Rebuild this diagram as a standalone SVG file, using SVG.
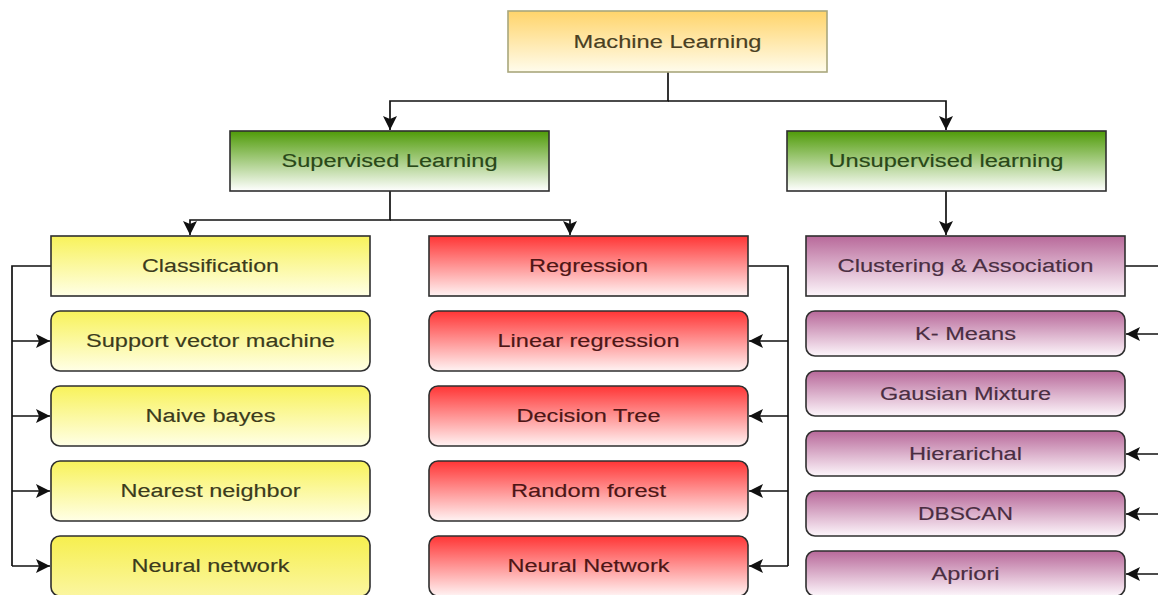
<svg xmlns="http://www.w3.org/2000/svg" width="1158" height="595" viewBox="0 0 1158 595">
  <style>
    .box { stroke: #2f2f2f; stroke-width: 1.6; }
    .root { stroke: #a9a77c; stroke-width: 1.6; }
    .lbl { font-family: "Liberation Sans", Arial, sans-serif; font-size: 18px; text-anchor: middle; stroke-width: 0.15; }
    .t-ml { fill: #4a3f22; stroke: #4a3f22; }
    .t-green { fill: #294818; stroke: #294818; }
    .t-yel { fill: #3b3b1c; stroke: #3b3b1c; }
    .t-red { fill: #4d1616; stroke: #4d1616; }
    .t-pur { fill: #4a2e42; stroke: #4a2e42; }
    .wire { fill: none; stroke: #111; stroke-width: 1.7; }
  </style>
  <defs>
    <linearGradient id="gOrange" x1="0" y1="0" x2="0" y2="1">
      <stop offset="0" stop-color="#ffd46a"/>
      <stop offset="1" stop-color="#fffcec"/>
    </linearGradient>
    <linearGradient id="gGreen" x1="0" y1="0" x2="0" y2="1">
      <stop offset="0" stop-color="#4f9b08"/>
      <stop offset="1" stop-color="#ffffff"/>
    </linearGradient>
    <linearGradient id="gYellow" x1="0" y1="0" x2="0" y2="1">
      <stop offset="0" stop-color="#f8f25a"/>
      <stop offset="1" stop-color="#ffffe6"/>
    </linearGradient>
    <linearGradient id="gYellowDeep" x1="0" y1="0" x2="0" y2="1">
      <stop offset="0" stop-color="#f6ef4e"/>
      <stop offset="1" stop-color="#fbf6a0"/>
    </linearGradient>
    <linearGradient id="gRed" x1="0" y1="0" x2="0" y2="1">
      <stop offset="0" stop-color="#ff3535"/>
      <stop offset="1" stop-color="#fff3f3"/>
    </linearGradient>
    <linearGradient id="gPurple" x1="0" y1="0" x2="0" y2="1">
      <stop offset="0" stop-color="#b8699a"/>
      <stop offset="1" stop-color="#fdf6fb"/>
    </linearGradient>
    <marker id="arrow" markerUnits="userSpaceOnUse" markerWidth="15" markerHeight="15" refX="14" refY="7" orient="auto">
      <path d="M0,0 L14,7 L0,14 L3,7 z" fill="#111"/>
    </marker>
  </defs>

  <rect width="1158" height="595" fill="#ffffff"/>

  <!-- connectors -->
  <g id="connectors">
    <path class="wire" d="M668,72 V101 H390 V130" marker-end="url(#arrow)"/>
    <path class="wire" d="M668,101 H946 V130" marker-end="url(#arrow)"/>
    <path class="wire" d="M946,191 V235" marker-end="url(#arrow)"/>
    <path class="wire" d="M390,191 V220 H190 V235" marker-end="url(#arrow)"/>
    <path class="wire" d="M390,220 H570 V235" marker-end="url(#arrow)"/>

    <!-- classification branch -->
    <path class="wire" d="M51,266 H12 V566"/>
    <path class="wire" d="M12,341 H50" marker-end="url(#arrow)"/>
    <path class="wire" d="M12,416 H50" marker-end="url(#arrow)"/>
    <path class="wire" d="M12,491 H50" marker-end="url(#arrow)"/>
    <path class="wire" d="M12,566 H50" marker-end="url(#arrow)"/>

    <!-- regression branch -->
    <path class="wire" d="M748,266 H788 V566"/>
    <path class="wire" d="M788,341 H749" marker-end="url(#arrow)"/>
    <path class="wire" d="M788,416 H749" marker-end="url(#arrow)"/>
    <path class="wire" d="M788,491 H749" marker-end="url(#arrow)"/>
    <path class="wire" d="M788,566 H749" marker-end="url(#arrow)"/>

    <!-- clustering branch -->
    <path class="wire" d="M1125,266 H1160"/>
    <path class="wire" d="M1160,334 H1126" marker-end="url(#arrow)"/>
    <path class="wire" d="M1160,454 H1126" marker-end="url(#arrow)"/>
    <path class="wire" d="M1160,514 H1126" marker-end="url(#arrow)"/>
    <path class="wire" d="M1160,574 H1126" marker-end="url(#arrow)"/>
  </g>

  <!-- top level -->
  <g id="machine-learning">
    <rect class="root" x="508" y="11" width="319" height="61" fill="url(#gOrange)"/>
    <text class="lbl t-ml" x="667.5" y="48" textLength="188" lengthAdjust="spacingAndGlyphs">Machine Learning</text>
  </g>

  <g id="supervised">
    <rect class="box" x="230" y="131" width="319" height="60" fill="url(#gGreen)"/>
    <text class="lbl t-green" x="389.5" y="167" textLength="216" lengthAdjust="spacingAndGlyphs">Supervised Learning</text>
  </g>

  <g id="unsupervised">
    <rect class="box" x="787" y="131" width="319" height="60" fill="url(#gGreen)"/>
    <text class="lbl t-green" x="946" y="167" textLength="235" lengthAdjust="spacingAndGlyphs">Unsupervised learning</text>
  </g>

  <!-- classification column -->
  <g id="classification">
    <rect class="box" x="51" y="236" width="319" height="60" fill="url(#gYellow)"/>
    <text class="lbl t-yel" x="210.5" y="272" textLength="137" lengthAdjust="spacingAndGlyphs">Classification</text>
  </g>
  <g id="svm">
    <rect class="box" x="51" y="311" width="319" height="60" rx="9" fill="url(#gYellow)"/>
    <text class="lbl t-yel" x="210.5" y="347" textLength="249" lengthAdjust="spacingAndGlyphs">Support vector machine</text>
  </g>
  <g id="naive-bayes">
    <rect class="box" x="51" y="386" width="319" height="60" rx="9" fill="url(#gYellow)"/>
    <text class="lbl t-yel" x="210.5" y="422" textLength="130" lengthAdjust="spacingAndGlyphs">Naive bayes</text>
  </g>
  <g id="nearest-neighbor">
    <rect class="box" x="51" y="461" width="319" height="60" rx="9" fill="url(#gYellow)"/>
    <text class="lbl t-yel" x="210.5" y="497" textLength="180" lengthAdjust="spacingAndGlyphs">Nearest neighbor</text>
  </g>
  <g id="neural-network-cls">
    <rect class="box" x="51" y="536" width="319" height="60" rx="9" fill="url(#gYellowDeep)"/>
    <text class="lbl t-yel" x="210.5" y="572" textLength="158" lengthAdjust="spacingAndGlyphs">Neural network</text>
  </g>

  <!-- regression column -->
  <g id="regression">
    <rect class="box" x="429" y="236" width="319" height="60" fill="url(#gRed)"/>
    <text class="lbl t-red" x="588.5" y="272" textLength="119" lengthAdjust="spacingAndGlyphs">Regression</text>
  </g>
  <g id="linear-regression">
    <rect class="box" x="429" y="311" width="319" height="60" rx="9" fill="url(#gRed)"/>
    <text class="lbl t-red" x="588.5" y="347" textLength="182" lengthAdjust="spacingAndGlyphs">Linear regression</text>
  </g>
  <g id="decision-tree">
    <rect class="box" x="429" y="386" width="319" height="60" rx="9" fill="url(#gRed)"/>
    <text class="lbl t-red" x="588.5" y="422" textLength="144" lengthAdjust="spacingAndGlyphs">Decision Tree</text>
  </g>
  <g id="random-forest">
    <rect class="box" x="429" y="461" width="319" height="60" rx="9" fill="url(#gRed)"/>
    <text class="lbl t-red" x="588.5" y="497" textLength="155" lengthAdjust="spacingAndGlyphs">Random forest</text>
  </g>
  <g id="neural-network-reg">
    <rect class="box" x="429" y="536" width="319" height="60" rx="9" fill="url(#gRed)"/>
    <text class="lbl t-red" x="588.5" y="572" textLength="162" lengthAdjust="spacingAndGlyphs">Neural Network</text>
  </g>

  <!-- clustering column -->
  <g id="clustering">
    <rect class="box" x="806" y="236" width="319" height="60" fill="url(#gPurple)"/>
    <text class="lbl t-pur" x="965.5" y="272" textLength="256" lengthAdjust="spacingAndGlyphs">Clustering &amp; Association</text>
  </g>
  <g id="k-means">
    <rect class="box" x="806" y="311" width="319" height="45" rx="9" fill="url(#gPurple)"/>
    <text class="lbl t-pur" x="965.5" y="340" textLength="101" lengthAdjust="spacingAndGlyphs">K- Means</text>
  </g>
  <g id="gaussian-mixture">
    <rect class="box" x="806" y="371" width="319" height="45" rx="9" fill="url(#gPurple)"/>
    <text class="lbl t-pur" x="965.5" y="400" textLength="171" lengthAdjust="spacingAndGlyphs">Gausian Mixture</text>
  </g>
  <g id="hierarchical">
    <rect class="box" x="806" y="431" width="319" height="45" rx="9" fill="url(#gPurple)"/>
    <text class="lbl t-pur" x="965.5" y="460" textLength="113" lengthAdjust="spacingAndGlyphs">Hierarichal</text>
  </g>
  <g id="dbscan">
    <rect class="box" x="806" y="491" width="319" height="45" rx="9" fill="url(#gPurple)"/>
    <text class="lbl t-pur" x="965.5" y="520" textLength="95" lengthAdjust="spacingAndGlyphs">DBSCAN</text>
  </g>
  <g id="apriori">
    <rect class="box" x="806" y="551" width="319" height="45" rx="9" fill="url(#gPurple)"/>
    <text class="lbl t-pur" x="965.5" y="580" textLength="68" lengthAdjust="spacingAndGlyphs">Apriori</text>
  </g>
</svg>
